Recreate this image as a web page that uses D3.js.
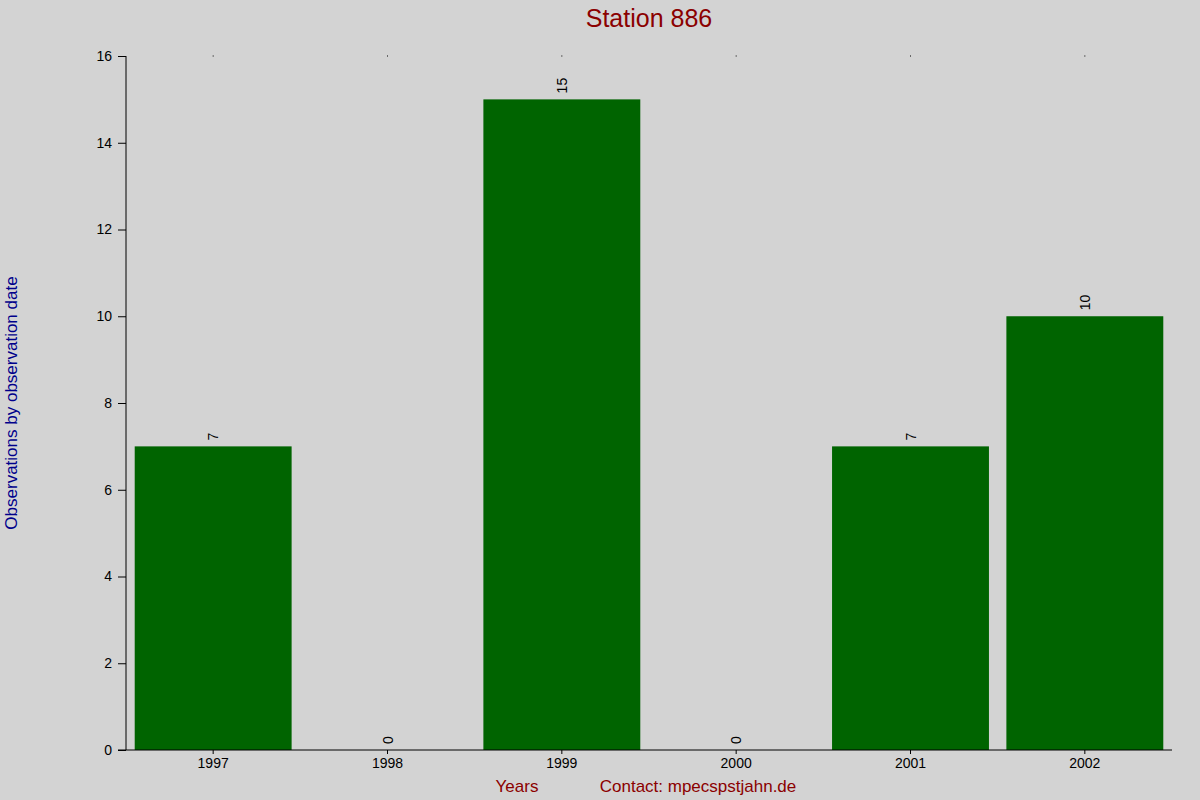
<!DOCTYPE html>
<html><head><meta charset="utf-8">
<script src="https://cdn.jsdelivr.net/npm/d3@7"></script>
<style>body{margin:0;background:#d3d3d3}</style></head>
<body><svg id="c" width="1200" height="800"></svg>
<script>
const categories=["1997","1998","1999","2000","2001","2002"];
const values=[7,0,15,0,7,10];
const yTicks=[0,2,4,6,8,10,12,14,16];
const svg=d3.select("#c");
const font="Arial, Liberation Sans, sans-serif";
svg.append("rect").attr("width",1200).attr("height",800).attr("fill","#d3d3d3");
const L=126,R=1172,T=56,B=750;
const x=d3.scaleBand().domain(categories).range([L,R]).paddingInner(0.1).paddingOuter(0.05);
const y=d3.scaleLinear().domain([0,16]).range([B,T]);
svg.selectAll(".bar").data(values).enter().append("rect")
 .attr("x",(d,i)=>x(categories[i])).attr("width",x.bandwidth())
 .attr("y",d=>y(d)).attr("height",d=>B-y(d)).attr("fill","#006400");
const ya=svg.append("g").attr("transform",`translate(${L},0)`).call(d3.axisLeft(y).tickValues(yTicks).tickSize(8).tickPadding(6));
ya.selectAll("text").attr("font-family",font).attr("font-size",14).attr("fill","#000");
ya.select(".domain").attr("d",`M0,${T}V${B}`);
const xa=svg.append("g").attr("transform",`translate(0,${B})`).call(d3.axisBottom(x).tickSize(4).tickPadding(4));
xa.selectAll("text").attr("font-family",font).attr("font-size",14).attr("fill","#000");
xa.select(".domain").attr("d",`M${L-8},0H${R}`);
svg.selectAll(".dot").data(categories).enter().append("rect")
 .attr("x",d=>x(d)+x.bandwidth()/2-0.5).attr("y",T-0.5).attr("width",1).attr("height",1).attr("fill","#000");
svg.selectAll(".vl").data(values).enter().append("text")
 .attr("transform",(d,i)=>`translate(${x(categories[i])+x.bandwidth()/2+5},${y(d)-6}) rotate(-90)`)
 .attr("font-family",font).attr("font-size",14).attr("fill","#000").text(d=>d);
svg.append("text").attr("x",649).attr("y",27).attr("text-anchor","middle").attr("font-family",font).attr("font-size",25).attr("fill","#8b0000").text("Station 886");
svg.append("text").attr("transform","translate(17,403) rotate(-90)").attr("text-anchor","middle").attr("font-family",font).attr("font-size",17).attr("fill","#00008b").text("Observations by observation date");
svg.append("text").attr("x",517).attr("y",792).attr("text-anchor","middle").attr("font-family",font).attr("font-size",17).attr("fill","#8b0000").text("Years");
svg.append("text").attr("x",698).attr("y",792).attr("text-anchor","middle").attr("font-family",font).attr("font-size",17).attr("fill","#8b0000").text("Contact: mpecspstjahn.de");
</script></body></html>
